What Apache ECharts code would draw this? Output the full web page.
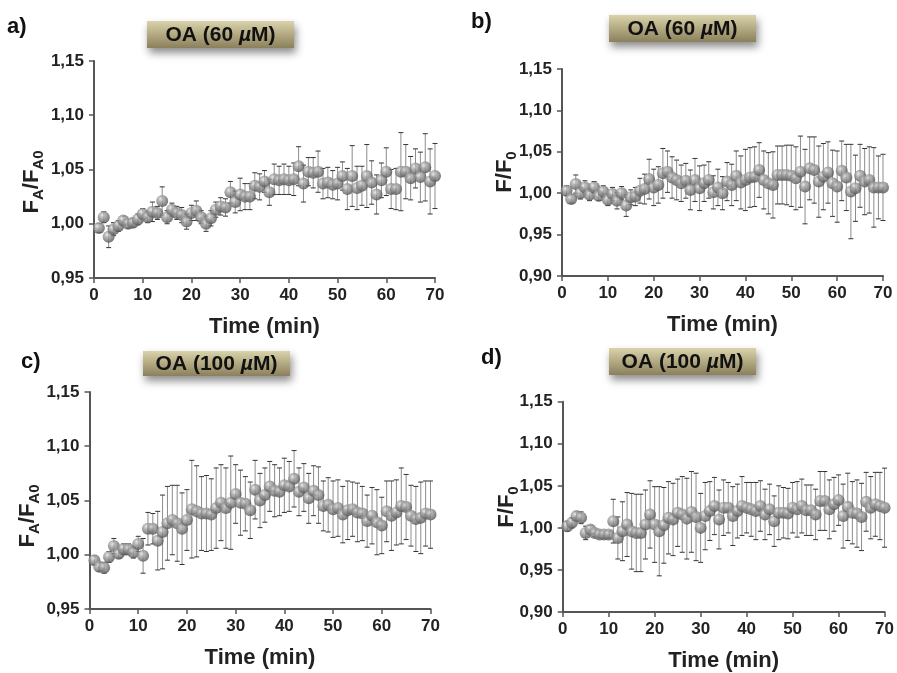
<!DOCTYPE html>
<html><head><meta charset="utf-8">
<script src="https://cdn.jsdelivr.net/npm/echarts@6/dist/echarts.min.js"></script>
<style>html,body{margin:0;padding:0;background:#fff}#c{width:897px;height:673px}</style>
</head><body><div id="c"></div>
<script>
// time points (min)
const time = [];
for (let i = 1; i <= 70; i++) time.push(i);

const xTicks = [0, 10, 20, 30, 40, 50, 60, 70];
const yTicksAC = ['0,95', '1,00', '1,05', '1,10', '1,15'];
const yTicksBD = ['0,90', '0,95', '1,00', '1,05', '1,10', '1,15'];

const panelLabels = ['a)', 'b)', 'c)', 'd)'];
const panelTitles = ['60', '60', '100', '100'];

// a) FA/FA0, OA 60 uM
const meanA = [0.996,1.006,0.988,0.995,0.998,1.003,1.000,1.001,1.004,1.009,1.006,1.011,1.010,1.021,1.006,1.013,1.010,1.008,1.002,1.010,
  1.012,1.006,1.000,1.005,1.013,1.016,1.015,1.029,1.020,1.027,1.025,1.025,1.035,1.034,1.039,1.029,1.041,1.040,1.041,1.040,
  1.041,1.053,1.037,1.048,1.047,1.048,1.037,1.038,1.036,1.037,1.044,1.032,1.044,1.033,1.035,1.044,1.038,1.027,1.040,1.048,
  1.032,1.032,1.048,1.048,1.042,1.051,1.043,1.052,1.039,1.044];
const errA = [0.004,0.005,0.010,0.006,0.005,0.004,0.004,0.004,0.005,0.005,0.005,0.009,0.006,0.013,0.006,0.006,0.006,0.007,0.007,0.007,
  0.009,0.006,0.007,0.007,0.007,0.008,0.008,0.010,0.010,0.015,0.012,0.012,0.012,0.012,0.010,0.012,0.014,0.013,0.014,0.013,
  0.015,0.018,0.017,0.013,0.014,0.019,0.014,0.014,0.013,0.015,0.013,0.019,0.028,0.020,0.018,0.029,0.020,0.018,0.016,0.022,
  0.018,0.019,0.036,0.025,0.020,0.018,0.023,0.031,0.030,0.030];

// b) F/F0, OA 60 uM
const meanB = [1.003,0.993,1.011,1.000,1.007,0.998,1.007,0.997,1.002,0.992,0.999,0.991,1.000,0.985,0.995,0.996,1.003,1.005,1.017,1.007,
  1.010,1.024,1.026,1.019,1.016,1.012,1.015,1.004,1.016,1.006,1.012,1.016,1.001,1.007,1.000,1.014,1.010,1.021,1.013,1.016,
  1.019,1.020,1.028,1.016,1.012,1.010,1.022,1.022,1.022,1.021,1.018,1.026,1.008,1.030,1.028,1.014,1.020,1.025,1.012,1.008,
  1.027,1.019,1.002,1.006,1.021,1.014,1.016,1.007,1.007,1.007];
const errB = [0.006,0.005,0.011,0.007,0.008,0.007,0.007,0.006,0.007,0.007,0.008,0.010,0.008,0.013,0.009,0.011,0.015,0.018,0.024,0.022,
  0.022,0.030,0.025,0.025,0.024,0.022,0.021,0.024,0.026,0.027,0.022,0.022,0.020,0.022,0.020,0.023,0.025,0.030,0.032,0.037,
  0.036,0.036,0.033,0.035,0.037,0.040,0.035,0.035,0.036,0.037,0.038,0.043,0.045,0.038,0.040,0.043,0.040,0.037,0.040,0.043,
  0.036,0.040,0.057,0.040,0.038,0.040,0.040,0.048,0.038,0.040];

// c) FA/FA0, OA 100 uM
const meanC = [0.995,0.989,0.988,0.998,1.008,1.001,1.005,1.005,1.002,1.010,0.999,1.024,1.024,1.013,1.021,1.029,1.032,1.029,1.024,1.032,
  1.042,1.040,1.038,1.038,1.037,1.043,1.048,1.043,1.048,1.056,1.048,1.047,1.041,1.060,1.050,1.055,1.063,1.059,1.058,1.064,
  1.063,1.070,1.058,1.062,1.052,1.059,1.055,1.045,1.046,1.042,1.043,1.037,1.041,1.042,1.039,1.038,1.031,1.036,1.030,1.027,
  1.040,1.036,1.039,1.045,1.044,1.036,1.033,1.034,1.038,1.037];
const errC = [0.004,0.004,0.005,0.005,0.007,0.004,0.005,0.005,0.005,0.007,0.016,0.015,0.014,0.027,0.034,0.034,0.032,0.035,0.033,0.028,
  0.045,0.042,0.034,0.035,0.033,0.037,0.035,0.037,0.043,0.027,0.030,0.025,0.026,0.027,0.025,0.025,0.023,0.024,0.022,0.025,
  0.023,0.026,0.022,0.022,0.023,0.023,0.026,0.023,0.025,0.026,0.026,0.026,0.027,0.025,0.027,0.025,0.024,0.026,0.030,0.026,
  0.028,0.032,0.030,0.035,0.030,0.028,0.030,0.033,0.030,0.031];

// d) F/F0, OA 100 uM
const meanD = [1.002,1.006,1.014,1.012,0.994,0.998,0.994,0.992,0.992,0.992,1.008,0.988,0.996,1.004,0.996,0.994,0.994,1.004,1.016,1.004,
  0.996,1.003,1.012,1.010,1.018,1.016,1.011,1.019,1.013,1.000,1.014,1.020,1.026,1.010,1.024,1.024,1.014,1.020,1.026,1.024,
  1.022,1.020,1.026,1.016,1.022,1.008,1.018,1.018,1.017,1.024,1.022,1.026,1.021,1.021,1.016,1.032,1.032,1.022,1.028,1.033,
  1.014,1.025,1.018,1.017,1.013,1.031,1.024,1.028,1.026,1.024];
const errD = [0.006,0.006,0.005,0.007,0.008,0.005,0.004,0.004,0.004,0.004,0.026,0.025,0.035,0.038,0.045,0.046,0.046,0.041,0.040,0.045,
  0.053,0.045,0.043,0.043,0.040,0.045,0.048,0.048,0.052,0.041,0.040,0.035,0.034,0.035,0.033,0.030,0.035,0.032,0.035,0.030,
  0.032,0.034,0.030,0.030,0.030,0.030,0.032,0.030,0.030,0.030,0.033,0.032,0.030,0.030,0.030,0.035,0.035,0.035,0.032,0.030,
  0.038,0.040,0.037,0.040,0.040,0.035,0.037,0.038,0.040,0.047];

const FONT = '"Liberation Sans", Arial, sans-serif';
const means = [meanA, meanB, meanC, meanD];
const errs = [errA, errB, errC, errD];
const yTickSets = [yTicksAC, yTicksBD, yTicksAC, yTicksBD];

const grids = [
  {left: 94, top: 61, width: 341, height: 217},
  {left: 562, top: 69, width: 321, height: 207},
  {left: 89.5, top: 392, width: 341, height: 217},
  {left: 562.7, top: 401.7, width: 324.6, height: 210.6}
];

const chart = echarts.init(document.getElementById('c'), null, {renderer: 'canvas'});

const sphere = {
  type: 'radial', x: 0.38, y: 0.33, r: 0.72,
  colorStops: [
    {offset: 0, color: '#e4e4e4'},
    {offset: 0.3, color: '#a6a6a6'},
    {offset: 0.75, color: '#6c6c6c'},
    {offset: 1, color: '#4a4a4a'}
  ]
};

function errRender(params, api) {
  const x = api.value(0), lo = api.value(1), hi = api.value(2);
  const pLo = api.coord([x, lo]), pHi = api.coord([x, hi]);
  const cw = 2.5;
  return {
    type: 'group',
    children: [
      {type: 'line', shape: {x1: pLo[0], y1: pLo[1], x2: pHi[0], y2: pHi[1]}, style: {stroke: '#8c8c8c', lineWidth: 1}},
      {type: 'line', shape: {x1: pLo[0] - cw, y1: pLo[1], x2: pLo[0] + cw, y2: pLo[1]}, style: {stroke: '#333', lineWidth: 1}},
      {type: 'line', shape: {x1: pHi[0] - cw, y1: pHi[1], x2: pHi[0] + cw, y2: pHi[1]}, style: {stroke: '#333', lineWidth: 1}}
    ]
  };
}

const xAxes = [], yAxes = [], series = [];
for (let k = 0; k < 4; k++) {
  const yt = yTickSets[k];
  xAxes.push({
    type: 'value', gridIndex: k, min: xTicks[0], max: xTicks[xTicks.length - 1], interval: 10,
    axisLine: {show: true, onZero: false, lineStyle: {color: '#555', width: 2}},
    axisTick: {show: true, length: 5, lineStyle: {color: '#555', width: 1.5}},
    splitLine: {show: false},
    axisLabel: {fontFamily: FONT, fontWeight: 'bold', fontSize: 17, color: '#222', margin: 9},
    name: 'Time (min)', nameLocation: 'middle', nameGap: 38,
    nameTextStyle: {fontFamily: FONT, fontWeight: 'bold', fontSize: 22, color: '#222'}
  });
  yAxes.push({
    type: 'value', gridIndex: k,
    min: parseFloat(yt[0].replace(',', '.')), max: parseFloat(yt[yt.length - 1].replace(',', '.')), interval: 0.05,
    axisLine: {show: true, lineStyle: {color: '#555', width: 2}},
    axisTick: {show: true, length: 5, lineStyle: {color: '#555', width: 1.5}},
    splitLine: {show: false},
    axisLabel: {fontFamily: FONT, fontWeight: 'bold', fontSize: 17, color: '#222', margin: 10,
      formatter: v => v.toFixed(2).replace('.', ',')}
  });
  const m = means[k], e = errs[k];
  series.push({
    type: 'custom', xAxisIndex: k, yAxisIndex: k, z: 1,
    renderItem: errRender,
    encode: {x: 0, y: [1, 2]},
    data: time.map((t, i) => [t, m[i] - e[i], m[i] + e[i]]),
    silent: true
  });
  series.push({
    type: 'scatter', xAxisIndex: k, yAxisIndex: k, z: 2,
    symbol: 'circle', symbolSize: 12,
    itemStyle: {color: sphere, borderWidth: 0},
    data: time.map((t, i) => [t, m[i]]),
    silent: true
  });
}

// titles, panel letters, y-axis names
const boxes = [
  {x: 147, y: 21, w: 147, h: 27},
  {x: 609, y: 15, w: 147, h: 27},
  {x: 143, y: 351, w: 147, h: 25},
  {x: 609, y: 348, w: 147, h: 27}
];
const letterPos = [[7, 16], [471, 11], [21, 351], [481, 347]];
const yNamePos = [[32, 182], [505, 172], [28, 516], [507, 507]];
const yNames = ['{a|F}{s|A}{a|/F}{s|A0}', '{a|F/F}{s|0}', '{a|F}{s|A}{a|/F}{s|A0}', '{a|F/F}{s|0}'];

const graphic = [];
for (let k = 0; k < 4; k++) {
  const b = boxes[k];
  graphic.push({
    type: 'rect', shape: {x: b.x, y: b.y, width: b.w, height: b.h}, z: 10,
    style: {
      fill: {type: 'linear', x: 0, y: 0, x2: 0, y2: 1, colorStops: [
        {offset: 0, color: '#d9d2ab'}, {offset: 0.5, color: '#b3aa82'}, {offset: 1, color: '#8a805c'}]},
      shadowBlur: 8, shadowColor: 'rgba(0,0,0,0.45)', shadowOffsetX: 2, shadowOffsetY: 5
    }
  });
  graphic.push({
    type: 'text', x: b.x + b.w / 2, y: b.y + b.h / 2 + 1, z: 11,
    style: {
      text: '{b|OA (' + panelTitles[k] + ' }{i|µ}{b|M)}',
      align: 'center', verticalAlign: 'middle',
      rich: {
        b: {fontFamily: FONT, fontWeight: 'bold', fontSize: 21, fill: '#111'},
        i: {fontFamily: FONT, fontWeight: 'bold', fontStyle: 'italic', fontSize: 21, fill: '#111'}
      }
    }
  });
  graphic.push({
    type: 'text', x: letterPos[k][0], y: letterPos[k][1], z: 11,
    style: {text: panelLabels[k], fontFamily: FONT, fontWeight: 'bold', fontSize: 22, fill: '#111'}
  });
  graphic.push({
    type: 'text', x: yNamePos[k][0], y: yNamePos[k][1], rotation: Math.PI / 2, z: 11,
    style: {
      text: yNames[k], align: 'center', verticalAlign: 'middle',
      rich: {
        a: {fontFamily: FONT, fontWeight: 'bold', fontSize: 22, fill: '#222', lineHeight: 28},
        s: {fontFamily: FONT, fontWeight: 'bold', fontSize: 15, fill: '#222', lineHeight: 15, verticalAlign: 'bottom'}
      }
    }
  });
}

chart.setOption({
  backgroundColor: '#fff',
  animation: false,
  grid: grids.map(g => Object.assign({containLabel: false}, g)),
  xAxis: xAxes,
  yAxis: yAxes,
  series: series,
  graphic: graphic
});
</script></body></html>
